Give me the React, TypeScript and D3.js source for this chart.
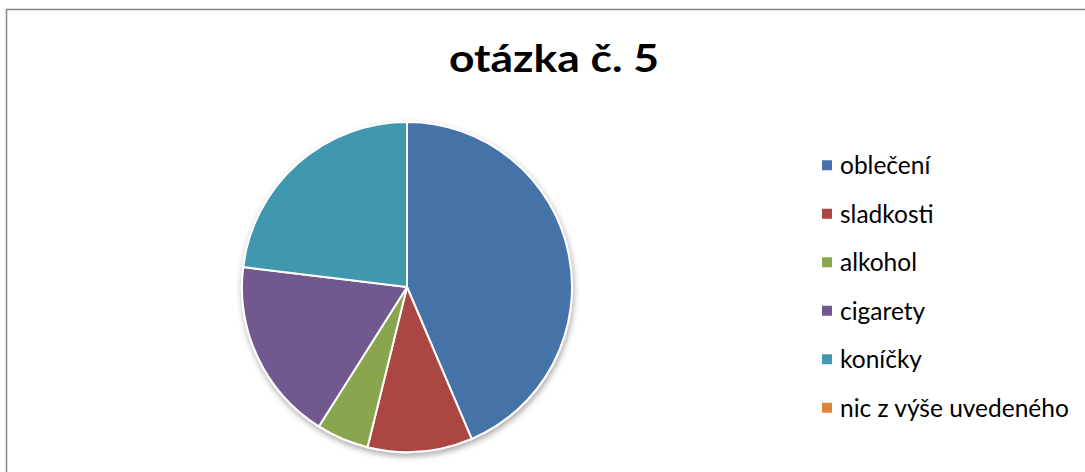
import React from "react";
import * as d3 from "d3";

const categories = ["oblečení", "sladkosti", "alkohol", "cigarety", "koníčky", "nic z výše uvedeného"];
const values = [17, 4, 2, 7, 9, 0];
const colors = ["#4572A7", "#AA4643", "#89A54E", "#71588F", "#4198AF", "#DB843D"];
const title = "otázka č. 5";

export default function App() {
  const W = 1085, H = 472;
  const cx = 407, cy = 287, r = 165;
  const data = categories.map((c, i) => ({ name: c, value: values[i], color: colors[i] }));
  const pie = d3.pie<any>().sort(null).value((d: any) => d.value);
  const arcs = pie(data).filter((a) => a.value > 0);
  const arc = d3.arc<any>().innerRadius(0).outerRadius(r);
  const legendY = d3.scaleBand<string>().domain(categories).range([141, 432]);
  return (
    <svg width={W} height={H} style={{ position: "absolute", left: 0, top: 0, background: "#fff" }}>
      <defs>
        <filter id="shadow" x="-20%" y="-20%" width="140%" height="140%">
          <feGaussianBlur in="SourceAlpha" stdDeviation="3" />
          <feOffset dx="1" dy="3" result="b" />
          <feComponentTransfer><feFuncA type="linear" slope="0.35" /></feComponentTransfer>
          <feMerge>
            <feMergeNode />
            <feMergeNode in="SourceGraphic" />
          </feMerge>
        </filter>
      </defs>
      <rect x={6.5} y={9.5} width={1200} height={600} fill="#fff" stroke="#868686" strokeWidth={1.5} />
      <text x={449} y={72} textLength={210} lengthAdjust="spacingAndGlyphs" fontFamily="Lato, 'Open Sans', sans-serif" fontWeight="bold" fontSize={38} fill="#000">
        {title}
      </text>
      <g transform={`translate(${cx},${cy})`} filter="url(#shadow)">
        {arcs.map((a, i) => (
          <path key={i} d={arc(a) as string} fill={a.data.color} stroke="#fff" strokeWidth={2} strokeLinejoin="round" />
        ))}
      </g>
      <g>
        {categories.map((c, i) => {
          const y = (legendY(c) as number) + legendY.bandwidth() / 2;
          return (
            <g key={c}>
              <rect x={822} y={y - 5} width={10} height={10} fill={colors[i]} />
              <text x={840} y={y} dy="0.36em" fontFamily="Lato, 'Open Sans', sans-serif" fontSize={24.5} fill="#000">
                {c}
              </text>
            </g>
          );
        })}
      </g>
    </svg>
  );
}
